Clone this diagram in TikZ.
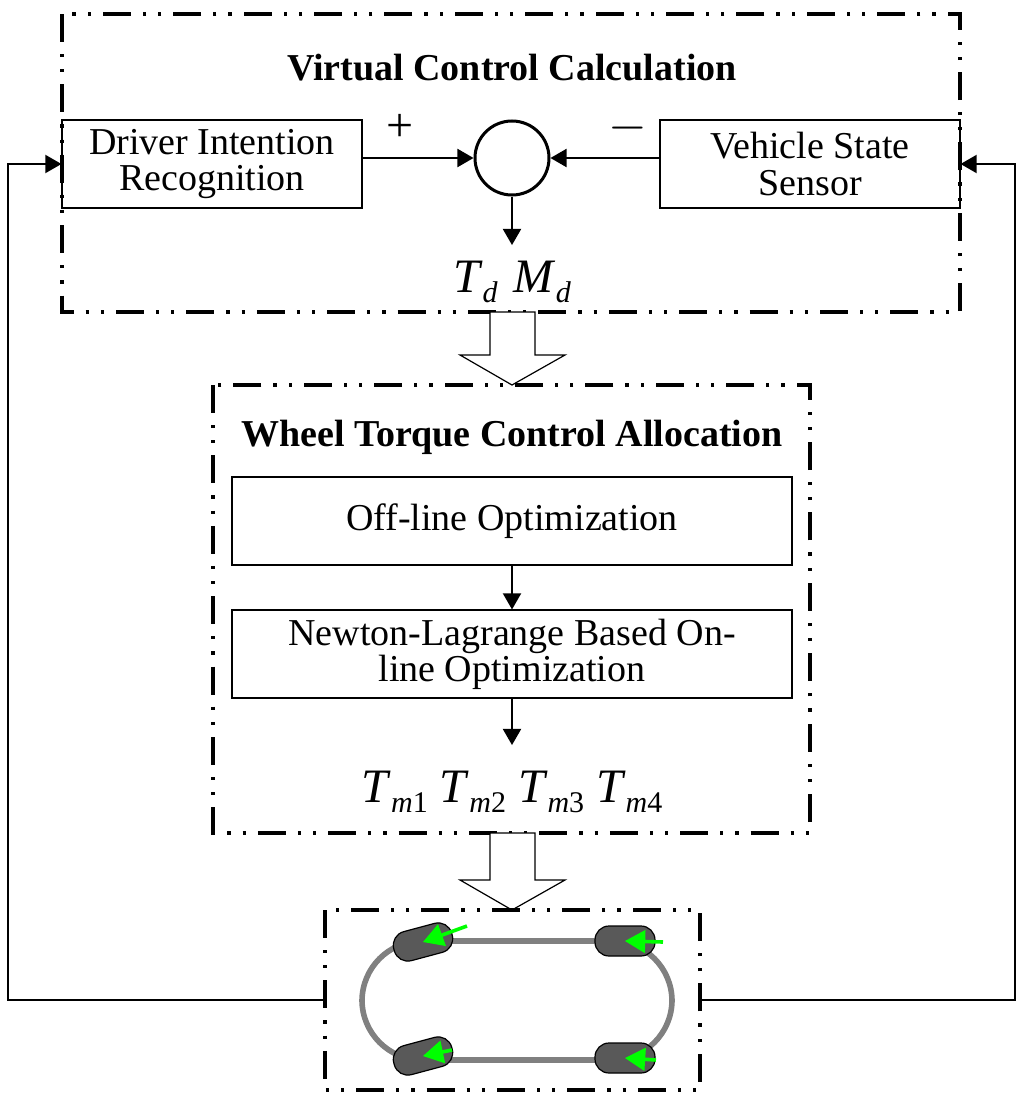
\documentclass[tikz,border=0pt]{standalone}
\usepackage{fontspec}
\setmainfont{Liberation Serif}
\usetikzlibrary{arrows,shapes.arrows}
\newcommand{\sub}[1]{\raisebox{-5pt}{\fontsize{15}{15}\selectfont #1}}

\begin{document}
\begin{tikzpicture}[x=0.5pt,y=-0.5pt,>=triangle 60,
  frame/.style={line width=1.6pt,dash pattern=on 14pt off 6pt on 1.6pt off 6pt on 1.6pt off 6pt},
  block/.style={draw,line width=0.6pt,minimum width=150pt,minimum height=44pt,align=center,font=\fontsize{19}{21}\selectfont},
  wide block/.style={block,minimum width=280pt},
  title/.style={font=\fontsize{19}{21}\selectfont\bfseries},
  sym/.style={font=\fontsize{24}{24}\selectfont},
  flow/.style={->,line width=1.2pt},
  hollow/.style={draw,line width=0.6pt,fill=white},
  wheel/.style={draw,line width=0.6pt,fill=black!65,rounded corners=7pt,minimum width=30pt,minimum height=15pt,inner sep=0pt},
  force/.style={-triangle 60,draw=green,line width=1.8pt}]

  \useasboundingbox (0,0) rectangle (1024,1103);

  % virtual control
  \draw[frame] (62,14) rectangle (960,312);
  \node[title] (vtitle) at (512,68) {Virtual Control Calculation};
  \node[block] (dir) at (212,164) {Driver Intention\\[-3pt]Recognition};
  \node[block] (vss) at (810,164) {Vehicle State\\[-3pt]Sensor};
  \node[draw,circle,line width=1.5pt,minimum size=37pt] (sum) at (512,158) {};
  \node[sym] (plus) at (400,128) {+};
  \node[sym] (minus) at (628,128) {$-$};
  \node[sym] (tmd) at (512,282) {\textit{T}\sub{\textit{d}}\,\,\textit{M}\sub{\textit{d}}};
  \coordinate (sumout) at (512,245);
  \draw[flow] (dir.east |- sum) -- (sum);
  \draw[flow] (vss.west |- sum) -- (sum);
  \draw[flow] (sum) -- (sumout);

  % allocation
  \draw[hollow] (490,312) -- (535,312) -- (535,355) -- (565,355) -- (512,385)
    -- (460,355) -- (490,355) -- cycle;
  \draw[frame] (213,385) rectangle (810,833);
  \node[title] (atitle) at (512,437) {Wheel Torque Control Allocation};
  \node[wide block] (off) at (512,521) {Off-line Optimization};
  \node[wide block] (nl) at (512,654) {Newton-Lagrange Based On-\\[-3pt]line Optimization};
  \node[sym] (tm) at (512,792) {\textit{T}\sub{\textit{m}1} \textit{T}\sub{\textit{m}2} \textit{T}\sub{\textit{m}3} \textit{T}\sub{\textit{m}4}};
  \coordinate (nlout) at (512,745);
  \draw[flow] (off) -- (nl);
  \draw[flow] (nl) -- (nlout);

  % vehicle
  \draw[hollow] (490,833) -- (535,833) -- (535,880) -- (565,880) -- (512,910)
    -- (460,880) -- (490,880) -- cycle;
  \draw[frame] (325,910) rectangle (700,1090);
  \draw[line width=2.8pt,draw=black!50,rounded corners=30pt] (362,941) rectangle (672,1060);
  \node[wheel,rotate=15] (w1) at (423,942) {};
  \node[wheel,rotate=15] (w2) at (423,1056) {};
  \node[wheel] (w3) at (625,941) {};
  \node[wheel] (w4) at (625,1058) {};
  \draw[force] (467,926) -- (w1.center);
  \draw[force] (663,942) -- (w3.center);
  \draw[force] (452,1050) -- (w2.center);
  \draw[force] (656,1060) -- (w4.center);

  % feedback
  \coordinate (fbl) at (8,1000);
  \coordinate (fbr) at (1015,1000);
  \draw[flow] (325,1000) -- (fbl) -- (fbl |- dir) -- (dir.west);
  \draw[flow] (700,1000) -- (fbr) -- (fbr |- vss) -- (vss.east);
\end{tikzpicture}
\end{document}
